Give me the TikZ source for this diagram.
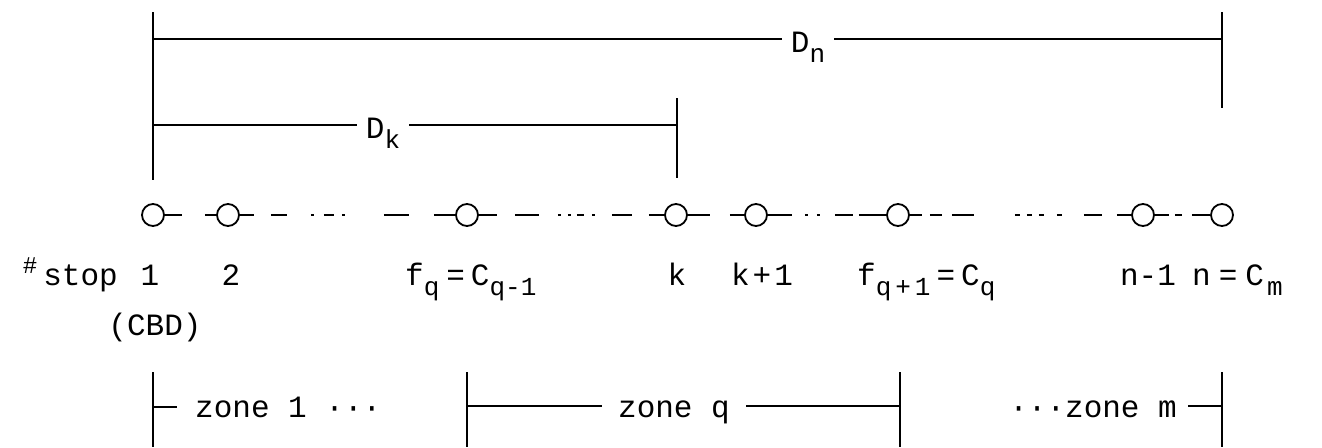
\documentclass[tikz,border=0pt]{standalone}
\usepackage{fontspec}
\setmainfont{Liberation Mono}
\usepackage{tikz}
\usetikzlibrary{positioning, calc}

% lowered subscript and raised mark, same plotter look as the text
\newcommand{\lo}[1]{\raisebox{-10pt}{\fontsize{26}{28}\selectfont #1}}
\newcommand{\hi}[1]{\raisebox{12pt}{\fontsize{24}{26}\selectfont #1}}

\tikzset{
  stop/.style={draw, circle, line width=1.8pt, minimum size=22pt, inner sep=0pt},
  stopline/.style={line width=1.8pt},
  bar/.style={line width=1.8pt},
  lbl/.style={font=\fontsize{31}{34}\selectfont, inner sep=0pt, anchor=base},
  dimlbl/.style={lbl, inner xsep=9pt},
}

\begin{document}
\begin{tikzpicture}[x=1pt, y=-1pt]
\useasboundingbox (0,0) rectangle (1322,447);

% === Distances D_n and D_k (top) ===
\draw[bar] (153,12) -- (153,180);
\draw[bar] (1222,12) -- (1222,108);
\draw[bar] (677,98) -- (677,178);
\coordinate (dnl) at (153,39);
\coordinate (dnr) at (1222,39);
\coordinate (dkl) at (153,125);
\coordinate (dkr) at (677,125);
\node[dimlbl] (dn) at (808,52) {D\lo{n}};
\node[dimlbl] (dk) at (383,138) {D\lo{k}};
\draw[bar] (dnl) -- (dn.west |- dnl) (dn.east |- dnr) -- (dnr);
\draw[bar] (dkl) -- (dk.west |- dkl) (dk.east |- dkr) -- (dkr);

% === Stops along the line ===
\node[stop] (s1)   at (153,215) {};
\node[stop] (s2)   at (228,215) {};
\node[stop] (sfq)  at (467,215) {};
\node[stop] (sk)   at (676,215) {};
\node[stop] (sk1)  at (756,215) {};
\node[stop] (sfq1) at (898,215) {};
\node[stop] (sn1)  at (1143,215) {};
\node[stop] (sn)   at (1222,215) {};

% broken line between the stops
\draw[stopline, dash pattern=on 17pt off 23pt on 13pt] (s1) -- (s2);
\draw[stopline, dash pattern=on 14pt off 17pt on 16pt off 24pt on 3pt off 10pt on 10pt off 8pt on 3pt off 39pt on 25pt off 25pt on 27pt] (s2) -- (sfq);
\draw[stopline, dash pattern=on 18pt off 18pt on 24pt off 19pt on 3pt off 7pt on 3pt off 6pt on 7pt off 8pt on 3pt off 17pt on 20pt off 17pt on 19pt] (sfq) -- (sk);
\draw[stopline, dash pattern=on 22pt off 20pt on 18pt] (sk) -- (sk1);
\draw[stopline, dash pattern=on 24pt off 13pt on 3pt off 9pt on 3pt off 15pt on 18pt off 6pt on 31pt] (sk1) -- (sfq1);
\draw[stopline, dash pattern=on 12pt off 8pt on 12pt off 10pt on 22pt off 41pt on 5pt off 7pt on 5pt off 7pt on 5pt off 13pt on 5pt off 22pt on 18pt off 15pt on 18pt] (sfq1) -- (sn1);
\draw[stopline, dash pattern=on 14pt off 6pt on 7pt off 10pt on 22pt] (sn1) -- (sn);

% stop numbers
\node[lbl, anchor=base east] (hstop) at (118,285) {\hi{\#}\hspace{6pt}stop};
\node[lbl] (l1)   at (150,285) {1};
\node[lbl] (l2)   at (231,285) {2};
\node[lbl, anchor=base west] (lfq) at (405,285) {f\lo{q}\hspace{7pt}=\hspace{6pt}C\lo{q-1}};
\node[lbl] (lk)   at (677,285) {k};
\node[lbl] (lk1)  at (762,285) {k\hspace{3pt}+\hspace{3pt}1};
\node[lbl, anchor=base west] (lfq1) at (857,285) {f\lo{q\hspace{4pt}+\hspace{4pt}1}\hspace{6pt}=\hspace{6pt}C\lo{q}};
\node[lbl] (ln1)  at (1148,285) {n-1};
\node[lbl, anchor=base west] (ln) at (1192,285) {n\hspace{8pt}=\hspace{8pt}C\lo{\hspace{3pt}m}};
\node[lbl] (cbd)  at (155,335) {(CBD)};

% === Zones (bottom) ===
\draw[bar] (153,372) -- (153,447);
\draw[bar] (467,372) -- (467,447);
\draw[bar] (900,372) -- (900,447);
\draw[bar] (1222,372) -- (1222,447);
\coordinate (z1l) at (153,407);
\coordinate (zql) at (467,406);
\coordinate (zqr) at (900,406);
\coordinate (zmr) at (1222,406);
\node[lbl, anchor=base west, inner xsep=18pt] (z1) at (177,417) {zone 1 ···};
\node[dimlbl, inner xsep=16pt] (zq) at (674,417) {zone q};
\node[lbl, anchor=base east, inner xsep=11pt] (zm) at (1188,417) {···zone m};
\draw[bar] (z1l) -- (z1.west |- z1l);
\draw[bar] (zql) -- (zq.west |- zql) (zq.east |- zqr) -- (zqr);
\draw[bar] (zm.east |- zmr) -- (zmr);

\end{tikzpicture}
\end{document}
